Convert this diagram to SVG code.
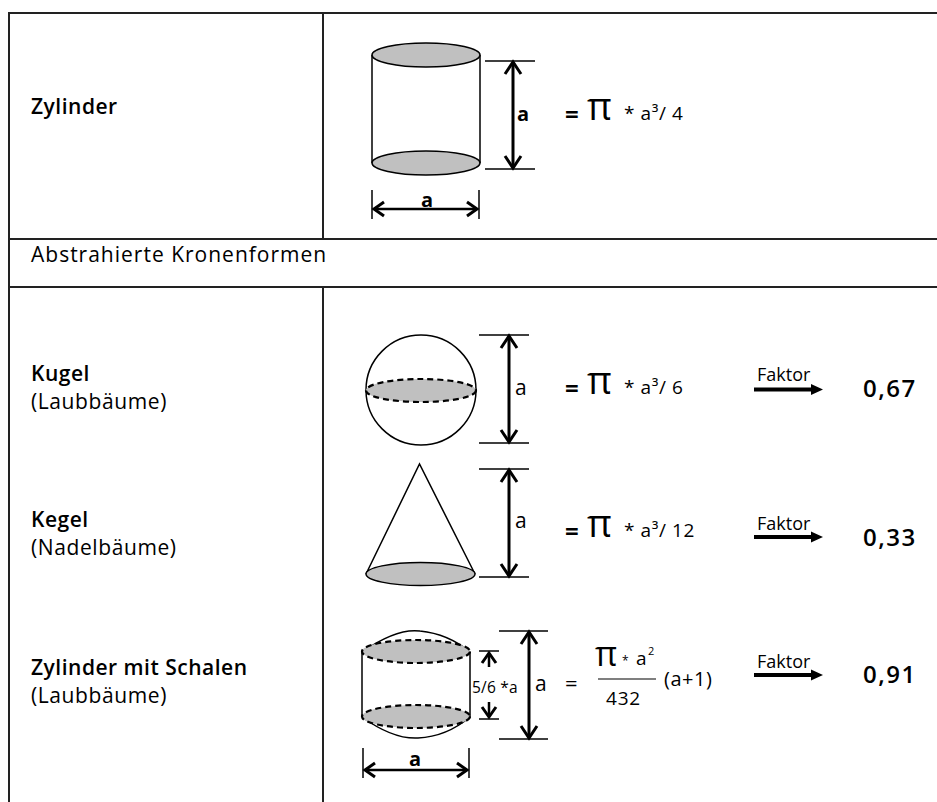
<svg xmlns="http://www.w3.org/2000/svg" width="937" height="802" viewBox="0 0 937 802">
<style>
.grid{stroke:#222;stroke-width:2;fill:none}
.ln{stroke:#000;stroke-width:1.5;fill:none}
.dim{stroke:#000;stroke-width:1.5}
.shade{fill:#c0c0c0;stroke:#000;stroke-width:1.5}
.dash{fill:#c0c0c0;stroke:#000;stroke-width:2.2;stroke-dasharray:6 4}
.arr{stroke:#000;stroke-width:3;fill:none}
.arrS{stroke:#000;stroke-width:2.5;fill:none}
text{font-family:"Open Sans","Noto Sans","DejaVu Sans",sans-serif;fill:#000}
.lab{font-size:21px;font-weight:600;letter-spacing:0.5px}
.sub{font-size:21px;letter-spacing:0.6px}
.hd{font-size:21px;letter-spacing:1px}
.f{font-size:19px;letter-spacing:0.6px}
.eq{font-size:24px;font-weight:700}
.pi{font-size:38px}
.fak{font-size:18px}
.val{font-size:24px;font-weight:600;letter-spacing:1.5px}
.da{font-size:21px}
.db{font-size:20px;font-weight:700}
</style>
<defs>
<marker id="chev" viewBox="-2 -10 17 20" markerWidth="17" markerHeight="20" refX="12" refY="0" orient="auto-start-reverse" markerUnits="userSpaceOnUse">
<path d="M0,-8 L12,0 L0,8" fill="none" stroke="#000" stroke-width="3"/>
</marker>
<marker id="chevS" viewBox="-2 -9 15 18" markerWidth="15" markerHeight="18" refX="10" refY="0" orient="auto-start-reverse" markerUnits="userSpaceOnUse">
<path d="M0,-7 L10,0 L0,7" fill="none" stroke="#000" stroke-width="3"/>
</marker>
</defs>

<g id="table">
<line class="grid" x1="9" y1="13" x2="937" y2="13"/>
<line class="grid" x1="9" y1="239" x2="937" y2="239"/>
<line class="grid" x1="9" y1="287" x2="937" y2="287"/>
<line class="grid" x1="9" y1="12" x2="9" y2="802"/>
<line class="grid" x1="323" y1="13" x2="323" y2="239"/>
<line class="grid" x1="323" y1="287" x2="323" y2="802"/>
<text class="hd" x="31" y="262">Abstrahierte Kronenformen</text>
</g>

<g id="zylinder">
<text class="lab" x="31" y="114">Zylinder</text>
<line class="ln" x1="372" y1="55" x2="372" y2="163"/>
<line class="ln" x1="480" y1="55" x2="480" y2="163"/>
<ellipse class="shade" cx="426" cy="55" rx="54" ry="12"/>
<ellipse class="shade" cx="426" cy="163" rx="54" ry="12"/>
<line class="dim" x1="485" y1="61" x2="535" y2="61"/>
<line class="dim" x1="485" y1="169" x2="535" y2="169"/>
<line class="arr" x1="513" y1="62" x2="513" y2="168" marker-start="url(#chev)" marker-end="url(#chev)"/>
<text class="db" x="517" y="121">a</text>
<line class="dim" x1="372" y1="190" x2="372" y2="219"/>
<line class="dim" x1="479" y1="190" x2="479" y2="219"/>
<line class="arrS" x1="374" y1="209" x2="477" y2="209" marker-start="url(#chevS)" marker-end="url(#chevS)"/>
<text class="db" x="427" y="207" text-anchor="middle">a</text>
<text class="eq" x="565" y="123">=</text>
<text class="pi" x="587" y="120">π</text>
<text class="f" x="624" y="120">* a³/ 4</text>
</g>

<g id="kugel">
<text class="lab" x="31" y="381">Kugel</text>
<text class="sub" x="31" y="409">(Laubbäume)</text>
<circle class="ln" cx="421" cy="390" r="55"/>
<ellipse class="dash" cx="421" cy="390.5" rx="55" ry="11.5"/>
<line class="dim" x1="479" y1="335" x2="529" y2="335"/>
<line class="dim" x1="479" y1="443" x2="529" y2="443"/>
<line class="arr" x1="509" y1="336" x2="509" y2="442" marker-start="url(#chev)" marker-end="url(#chev)"/>
<text class="da" x="515" y="395">a</text>
<text class="eq" x="565" y="397">=</text>
<text class="pi" x="587" y="394">π</text>
<text class="f" x="624" y="394">* a³/ 6</text>
<text class="fak" x="757" y="381">Faktor</text>
<rect x="754" y="387.5" width="59" height="4"/>
<polygon points="811,384 823,389.5 811,395"/>
<text class="val" x="863" y="397">0,67</text>
</g>

<g id="kegel">
<text class="lab" x="31" y="527">Kegel</text>
<text class="sub" x="31" y="555">(Nadelbäume)</text>
<path class="ln" d="M366,574 L419.5,464 L475,574"/>
<ellipse class="shade" cx="420.5" cy="574" rx="54.5" ry="11.5"/>
<line class="dim" x1="479" y1="469" x2="529" y2="469"/>
<line class="dim" x1="479" y1="577" x2="529" y2="577"/>
<line class="arr" x1="509" y1="470" x2="509" y2="576" marker-start="url(#chev)" marker-end="url(#chev)"/>
<text class="da" x="515" y="528">a</text>
<text class="eq" x="565" y="540">=</text>
<text class="pi" x="587" y="537">π</text>
<text class="f" x="624" y="537">* a³/ 12</text>
<text class="fak" x="757" y="530">Faktor</text>
<rect x="754" y="535" width="59" height="4"/>
<polygon points="811,531.5 823,537 811,542.5"/>
<text class="val" x="863" y="546">0,33</text>
</g>

<g id="zylinder-schalen">
<text class="lab" x="31" y="675">Zylinder mit Schalen</text>
<text class="sub" x="31" y="703">(Laubbäume)</text>
<path class="ln" d="M362,652 C385,636 405,629 420,631 C440,633 458,642 470,652"/>
<path class="ln" d="M362,717 C380,730 400,739 418,738 C440,737 458,727 470,717"/>
<ellipse class="dash" cx="416" cy="651.5" rx="54" ry="11.5"/>
<ellipse class="dash" cx="416" cy="716.5" rx="54" ry="11.5"/>
<line class="ln" x1="362" y1="652" x2="362" y2="717"/>
<line class="ln" x1="470" y1="652" x2="470" y2="717"/>
<line class="dim" x1="479" y1="651" x2="499" y2="651"/>
<line class="dim" x1="479" y1="719" x2="499" y2="719"/>
<line class="arrS" x1="489" y1="667" x2="489" y2="653" marker-end="url(#chevS)"/>
<line class="arrS" x1="489" y1="702" x2="489" y2="717" marker-end="url(#chevS)"/>
<text x="472" y="693" style="font-size:15.5px;letter-spacing:0.2px">5/6 *a</text>
<line class="dim" x1="499" y1="631" x2="548" y2="631"/>
<line class="dim" x1="499" y1="739" x2="548" y2="739"/>
<line class="arr" x1="529" y1="632" x2="529" y2="738" marker-start="url(#chev)" marker-end="url(#chev)"/>
<text class="da" x="535" y="691">a</text>
<text x="565" y="691" style="font-size:22px">=</text>
<text class="pi" x="595" y="666" style="font-size:34px">π</text>
<text x="622" y="665" style="font-size:12px">*</text>
<text x="636" y="665" style="font-size:19px">a</text>
<text x="648" y="655" style="font-size:11px">2</text>
<line class="ln" x1="598" y1="679" x2="656" y2="679" style="stroke-width:1.2"/>
<text x="606" y="705" style="font-size:19px;letter-spacing:0.8px">432</text>
<text x="664" y="686" style="font-size:20px;letter-spacing:0.5px">(a+1)</text>
<text class="fak" x="757" y="668">Faktor</text>
<rect x="754" y="673" width="59" height="4"/>
<polygon points="811,669.5 823,675 811,680.5"/>
<text class="val" x="863" y="683">0,91</text>
<line class="dim" x1="363" y1="748" x2="363" y2="778"/>
<line class="dim" x1="469" y1="748" x2="469" y2="778"/>
<line class="arrS" x1="365" y1="770" x2="467" y2="770" marker-start="url(#chevS)" marker-end="url(#chevS)"/>
<text class="db" x="415" y="766" text-anchor="middle">a</text>
</g>
</svg>
